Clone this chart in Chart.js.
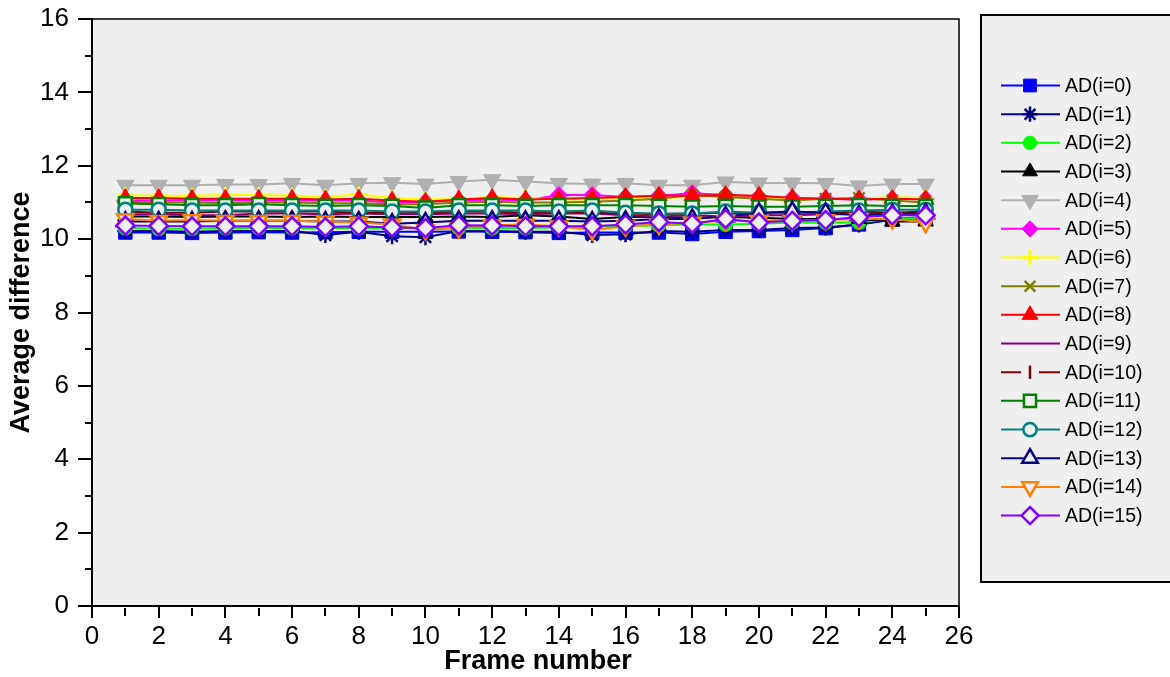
<!DOCTYPE html>
<html><head><meta charset="utf-8">
<script src="https://cdn.jsdelivr.net/npm/chart.js@4.4.0/dist/chart.umd.min.js"></script>
<style>html,body{margin:0;padding:0;background:#fff;overflow:hidden}#wrap{width:1170px;height:677px;position:relative}</style>
</head><body><div id="wrap"><canvas id="c" width="1170" height="677"></canvas></div>
<script>
const frames = [1,2,3,4,5,6,7,8,9,10,11,12,13,14,15,16,17,18,19,20,21,22,23,24,25];
const xTickValues = [0,2,4,6,8,10,12,14,16,18,20,22,24,26];
const yTickValues = [0,2,4,6,8,10,12,14,16];
const xTitle = 'Frame number';
const yTitle = 'Average difference';
const seriesLabels = ['AD(i=0)','AD(i=1)','AD(i=2)','AD(i=3)','AD(i=4)','AD(i=5)','AD(i=6)','AD(i=7)','AD(i=8)','AD(i=9)','AD(i=10)','AD(i=11)','AD(i=12)','AD(i=13)','AD(i=14)','AD(i=15)'];

const ad0  = [10.18,10.18,10.17,10.18,10.19,10.18,10.19,10.20,10.20,10.20,10.21,10.20,10.19,10.17,10.18,10.18,10.18,10.14,10.20,10.22,10.25,10.30,10.40,10.53,10.58];
const ad1  = [10.22,10.22,10.20,10.22,10.22,10.22,10.11,10.20,10.08,10.05,10.22,10.22,10.20,10.20,10.11,10.13,10.22,10.20,10.25,10.25,10.30,10.32,10.40,10.55,10.60];
const ad2  = [10.30,10.28,10.28,10.30,10.30,10.30,10.30,10.30,10.30,10.28,10.30,10.30,10.30,10.32,10.35,10.35,10.38,10.40,10.40,10.42,10.45,10.45,10.45,10.55,10.58];
const ad3  = [10.62,10.62,10.60,10.62,10.62,10.60,10.62,10.60,10.60,10.60,10.62,10.60,10.65,10.62,10.55,10.60,10.60,10.58,10.60,10.58,10.55,10.55,10.55,10.48,10.48];
const ad4  = [11.47,11.47,11.47,11.49,11.49,11.52,11.47,11.52,11.54,11.50,11.57,11.62,11.57,11.52,11.50,11.52,11.47,11.47,11.56,11.53,11.53,11.52,11.45,11.50,11.50];
const ad5  = [11.05,11.05,11.05,11.05,11.05,11.05,11.05,11.05,11.00,11.02,11.05,11.08,11.05,11.20,11.20,11.15,11.18,11.25,11.20,11.15,11.12,11.10,11.08,11.10,11.10];
const ad6  = [11.20,11.18,11.18,11.20,11.20,11.18,11.15,11.22,11.12,11.08,11.10,11.15,11.12,11.08,11.08,11.12,11.12,11.15,11.15,11.12,11.10,11.10,11.10,11.15,11.12];
const ad7  = [11.02,11.00,11.00,10.98,11.00,11.00,10.98,10.98,10.95,10.95,11.00,11.02,11.00,11.00,11.02,11.05,11.10,11.20,11.15,11.10,11.05,11.10,11.12,11.05,11.00];
const ad8  = [11.12,11.12,11.10,11.10,11.10,11.10,11.08,11.10,11.05,11.02,11.08,11.12,11.08,11.10,11.12,11.15,11.18,11.18,11.20,11.18,11.12,11.10,11.08,11.10,11.08];
const ad9  = [10.68,10.68,10.65,10.65,10.70,10.70,10.68,10.70,10.68,10.68,10.70,10.70,10.68,10.70,10.70,10.65,10.62,10.65,10.62,10.65,10.65,10.68,10.68,10.70,10.70];
const ad10 = [10.75,10.72,10.72,10.75,10.75,10.75,10.75,10.72,10.72,10.72,10.75,10.75,10.72,10.75,10.72,10.70,10.68,10.70,10.72,10.70,10.72,10.72,10.75,10.72,10.75];
const ad11 = [10.97,10.95,10.92,10.92,10.95,10.92,10.90,10.92,10.90,10.85,10.92,10.92,10.90,10.92,10.92,10.92,10.90,10.88,10.90,10.88,10.88,10.90,10.92,10.90,10.90];
const ad12 = [10.80,10.80,10.78,10.78,10.78,10.78,10.78,10.78,10.75,10.75,10.78,10.78,10.78,10.75,10.78,10.72,10.70,10.70,10.75,10.72,10.72,10.75,10.78,10.80,10.80];
const ad13 = [10.48,10.48,10.48,10.50,10.50,10.50,10.48,10.48,10.42,10.45,10.50,10.50,10.50,10.50,10.48,10.50,10.55,10.55,10.62,10.72,10.75,10.72,10.65,10.68,10.70];
const ad14 = [10.55,10.50,10.52,10.50,10.50,10.50,10.48,10.45,10.40,10.25,10.30,10.38,10.40,10.35,10.25,10.35,10.40,10.45,10.50,10.50,10.50,10.52,10.55,10.55,10.45];
const ad15 = [10.37,10.36,10.35,10.35,10.35,10.35,10.33,10.35,10.32,10.30,10.38,10.37,10.35,10.35,10.35,10.40,10.47,10.42,10.55,10.45,10.50,10.52,10.60,10.65,10.65];
const seriesValues = [ad0,ad1,ad2,ad3,ad4,ad5,ad6,ad7,ad8,ad9,ad10,ad11,ad12,ad13,ad14,ad15];

const PLOT_BG = '#efefef';
const FONT = '"Liberation Sans", Arial, Helvetica, sans-serif';
const styles = [
  {c:'#0000ff', ps:'rect', r:9.5, open:false},
  {c:'#000080', ps:'star', r:8, open:false},
  {c:'#00ff00', ps:'circle', r:7, open:false},
  {c:'#000000', ps:'triangle', r:9, open:false},
  {c:'#b0b0b0', ps:'triangle', rot:180, r:10, open:false},
  {c:'#ff00ff', ps:'rectRot', r:8.5, open:false},
  {c:'#ffff00', ps:'cross', r:8, open:false},
  {c:'#808000', ps:'crossRot', r:8, open:false},
  {c:'#ff0000', ps:'triangle', r:9.5, open:false},
  {c:'#800080', ps:'line', r:0, open:false},
  {c:'#800000', ps:'line', rot:90, r:7, open:false},
  {c:'#008000', ps:'rect', r:9, open:true},
  {c:'#008080', ps:'circle', r:7, open:true},
  {c:'#000080', ps:'triangle', r:9.5, open:true},
  {c:'#ff8000', ps:'triangle', rot:180, r:9.5, open:true},
  {c:'#8000ff', ps:'rectRot', r:9, open:true}
];

const datasets = seriesValues.map((vals, i) => {
  const s = styles[i];
  const lineLike = ['star','cross','crossRot','line'].includes(s.ps);
  return {
    label: seriesLabels[i],
    data: frames.map((f, k) => ({x: f, y: vals[k]})),
    borderColor: s.c,
    backgroundColor: s.c,
    borderWidth: 2,
    pointStyle: s.ps,
    pointRotation: s.rot || 0,
    pointRadius: s.r,
    pointHoverRadius: s.r,
    pointBackgroundColor: s.open ? PLOT_BG : s.c,
    pointBorderColor: s.c,
    pointBorderWidth: (s.open || lineLike) ? 2.5 : 1,
    tension: 0,
    fill: false,
    order: seriesValues.length - 1 - i
  };
});

const bgPlugin = {
  id: 'plotBg',
  beforeDraw(chart) {
    const {ctx, chartArea: a} = chart;
    ctx.save();
    ctx.fillStyle = PLOT_BG;
    ctx.fillRect(a.left, a.top, a.right - a.left, a.bottom - a.top);
    ctx.restore();
  }
};

const decorPlugin = {
  id: 'decor',
  afterDraw(chart) {
    const {ctx, chartArea: a, scales} = chart;
    const xs = scales.x, ys = scales.y;
    ctx.save();
    ctx.strokeStyle = '#000';
    ctx.lineWidth = 1.5;
    ctx.beginPath();
    ctx.moveTo(a.left, a.top); ctx.lineTo(a.right, a.top); ctx.lineTo(a.right, a.bottom);
    ctx.stroke();
    ctx.lineWidth = 2;
    ctx.beginPath();
    for (let v = 1; v < 26; v += 2) {
      const px = Math.round(xs.getPixelForValue(v));
      ctx.moveTo(px, a.bottom + 2); ctx.lineTo(px, a.bottom + 10);
    }
    for (let v = 1; v < 16; v += 2) {
      const py = Math.round(ys.getPixelForValue(v));
      ctx.moveTo(a.left - 7, py); ctx.lineTo(a.left, py);
    }
    ctx.stroke();
    ctx.fillStyle = '#000';
    ctx.font = 'bold 27px ' + FONT;
    ctx.textAlign = 'center';
    ctx.textBaseline = 'middle';
    ctx.fillText(xTitle, 538, 662);
    ctx.save();
    ctx.translate(22, (a.top + a.bottom) / 2);
    ctx.rotate(-Math.PI / 2);
    ctx.fillText(yTitle, 0, 0);
    ctx.restore();

    const bx = 981, by = 15, bw = 200, bh = 567;
    ctx.fillStyle = PLOT_BG;
    ctx.fillRect(bx, by, bw, bh);
    ctx.strokeStyle = '#000';
    ctx.lineWidth = 2;
    ctx.strokeRect(bx, by, bw, bh);
    const lx0 = 1001, lx1 = 1060, mx = 1030, y0 = 85.5, dy = 28.67;
    chart.data.datasets.forEach((ds, i) => {
      const y = y0 + i * dy;
      ctx.strokeStyle = ds.borderColor;
      ctx.lineWidth = 2;
      ctx.beginPath(); ctx.moveTo(lx0, y); ctx.lineTo(lx1, y); ctx.stroke();
      if (ds.pointRadius > 0) {
        if (ds.pointStyle === 'line') {
          ctx.fillStyle = PLOT_BG;
          ctx.fillRect(mx - 9, y - 2, 18, 4);
        }
        ctx.fillStyle = ds.pointBackgroundColor;
        ctx.strokeStyle = ds.pointBorderColor;
        ctx.lineWidth = ds.pointBorderWidth;
        Chart.helpers.drawPoint(ctx, {pointStyle: ds.pointStyle, rotation: ds.pointRotation, radius: ds.pointRadius * 0.95, borderWidth: ds.pointBorderWidth}, mx, y);
      }
      ctx.fillStyle = '#000';
      ctx.font = '19.5px ' + FONT;
      ctx.textAlign = 'left';
      ctx.textBaseline = 'middle';
      ctx.fillText(ds.label, 1065, y + 1);
    });
    ctx.restore();
  }
};

new Chart(document.getElementById('c'), {
  type: 'line',
  data: {datasets},
  options: {
    responsive: false,
    animation: false,
    devicePixelRatio: 1,
    layout: {padding: {left: 0, top: 19, right: 211, bottom: 0}},
    plugins: {legend: {display: false}, tooltip: {enabled: false}},
    events: [],
    scales: {
      x: {
        type: 'linear', min: 0, max: 26,
        afterBuildTicks: s => { s.ticks = xTickValues.map(v => ({value: v})); },
        afterFit: s => { s.height = 71; s.paddingLeft = 0; s.paddingRight = 0; },
        ticks: {color: '#000', font: {size: 26, family: FONT}, padding: 3, maxRotation: 0, autoSkip: false},
        grid: {drawOnChartArea: false, drawTicks: true, tickLength: 12, color: '#000', lineWidth: 2},
        border: {display: true, color: '#000', width: 2}
      },
      y: {
        type: 'linear', min: 0, max: 16,
        afterBuildTicks: s => { s.ticks = yTickValues.map(v => ({value: v})); },
        afterFit: s => { s.width = 92; s.paddingTop = 0; s.paddingBottom = 0; },
        ticks: {color: '#000', font: {size: 26, family: FONT}, padding: 9, autoSkip: false},
        grid: {drawOnChartArea: false, drawTicks: true, tickLength: 14, color: '#000', lineWidth: 2},
        border: {display: true, color: '#000', width: 2}
      }
    }
  },
  plugins: [bgPlugin, decorPlugin]
});
</script></body></html>
